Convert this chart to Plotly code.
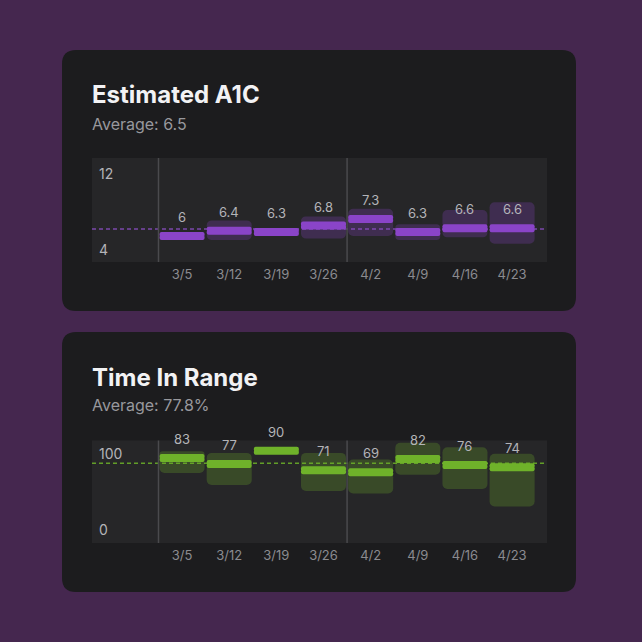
import plotly.graph_objects as go

# ---------------- data ----------------
weeks = ["3/5", "3/12", "3/19", "3/26", "4/2", "4/9", "4/16", "4/23"]

a1c_values = [6, 6.4, 6.3, 6.8, 7.3, 6.3, 6.6, 6.6]
a1c_low = [None, 5.7, None, 5.8, 6.0, 5.7, 5.9, 5.4]
a1c_high = [None, 7.2, None, 7.5, 8.1, 6.9, 8.0, 8.6]

tir_values = [83, 77, 90, 71, 69, 82, 76, 74]
tir_low = [68.3, 56.6, None, 50.7, 48.3, 66.7, 52.6, 35.6]
tir_high = [89.5, 87.9, None, 87.9, 81.4, 97.7, 93.4, 87.0]

a1c_axis_labels = ["12", "4"]
tir_axis_labels = ["100", "0"]

# ---------------- layout helpers ----------------
W, H = 642, 642
FONT = "Inter"
X_DOM = [92 / W, 547 / W]
X_RANGE = [-1.91, 7.74]
A1C_RANGE = [4, 12]
TIR_RANGE = [0, 100]
A1C_DOM = [1 - 262 / H, 1 - 158 / H]
TIR_DOM = [1 - 543 / H, 1 - 440.5 / H]

BAR_W = 0.955
BAR_PX = 8


def rounded_rect(x0p, y0p, x1p, y1p, rp):
    x0, x1 = x0p / W, x1p / W
    yt, yb = 1 - y0p / H, 1 - y1p / H
    r = rp / W
    return (f"M{x0+r},{yb} L{x1-r},{yb} Q{x1},{yb} {x1},{yb+r} "
            f"L{x1},{yt-r} Q{x1},{yt} {x1-r},{yt} L{x0+r},{yt} "
            f"Q{x0},{yt} {x0},{yt-r} L{x0},{yb+r} Q{x0},{yb} {x0+r},{yb} Z")


fig = go.Figure()
card_shapes = []
bg_shapes = []
line_shapes = []
annotations = []

panels = [
    dict(xa="x", ya="y", vals=a1c_values, lo=a1c_low, hi=a1c_high, rng=A1C_RANGE, dom=A1C_DOM,
         bar="#8a44c8", box="rgba(138,68,200,0.25)", dash="#7b48aa",
         title="Estimated A1C", sub_fmt="Average: {:.1f}", labels=a1c_axis_labels,
         card=(62, 50, 576, 311), title_y=95, sub_y=124, lab_shift=(-15, 13)),
    dict(xa="x2", ya="y2", vals=tir_values, lo=tir_low, hi=tir_high, rng=TIR_RANGE, dom=TIR_DOM,
         bar="#6fb22a", box="rgba(111,178,42,0.26)", dash="#629e28",
         title="Time In Range", sub_fmt="Average: {:.1f}%", labels=tir_axis_labels,
         card=(62, 332, 576, 592), title_y=377, sub_y=405, lab_shift=(-13, 14)),
]

for p in panels:
    vals = p["vals"]
    n = len(vals)
    dom_px = (p["dom"][1] - p["dom"][0]) * H
    px_per_unit = dom_px / (p["rng"][1] - p["rng"][0])
    half = BAR_PX / 2 / px_per_unit
    overlap = 1.0 / px_per_unit
    common = dict(x=weeks, width=BAR_W, xaxis=p["xa"], yaxis=p["ya"],
                  hoverinfo="skip", showlegend=False, marker_line_width=0)
    # range boxes (upper and lower halves so both ends are rounded)
    up = [h - v if h is not None else None for h, v in zip(p["hi"], vals)]
    dn = [l - v if l is not None else None for l, v in zip(p["lo"], vals)]
    fig.add_trace(go.Bar(y=up, base=vals, marker=dict(color=p["box"], cornerradius=5), **common))
    fig.add_trace(go.Bar(y=dn, base=vals, marker=dict(color=p["box"], cornerradius=5), **common))
    # main bars (two overlapping halves -> rounded at both ends)
    fig.add_trace(go.Bar(y=[half + overlap] * n, base=[v - overlap for v in vals],
                         marker=dict(color=p["bar"], cornerradius=3), **common))
    fig.add_trace(go.Bar(y=[-(half + overlap)] * n, base=[v + overlap for v in vals],
                         marker=dict(color=p["bar"], cornerradius=3), **common))

    avg = sum(vals) / n
    xdom = p["xa"] + " domain"
    ydom = p["ya"] + " domain"
    # plot-area background
    bg_shapes.append(dict(type="rect", xref=xdom, yref=ydom, x0=0, x1=1, y0=0, y1=1,
                          fillcolor="#262628", line=dict(width=0), layer="below"))
    # average dashed line
    line_shapes.append(dict(type="line", xref=xdom, yref=p["ya"], x0=0, x1=1,
                            y0=avg, y1=avg, layer="below",
                            line=dict(color=p["dash"], width=1.5, dash="4px,3px")))
    # month separators
    months_break = [i for i in range(n)
                    if i == 0 or weeks[i].split("/")[0] != weeks[i - 1].split("/")[0]]
    for i in months_break:
        line_shapes.append(dict(type="line", xref=p["xa"], yref=ydom, x0=i - 0.5, x1=i - 0.5,
                                y0=0, y1=1, layer="below",
                                line=dict(color="#4a4a4d", width=1.5)))
    # value labels
    for w, v in zip(weeks, vals):
        annotations.append(dict(x=w, y=v, xref=p["xa"], yref=p["ya"], text=f"{v:g}",
                                showarrow=False, yshift=19,
                                font=dict(family=FONT, size=13, color="#b4b4b8")))
    # axis labels inside plot
    top_lab, bot_lab = p["labels"]
    annotations.append(dict(x=0, xref=xdom, y=p["rng"][1], yref=p["ya"],
                            text=top_lab, showarrow=False, xanchor="left", xshift=5,
                            yshift=p["lab_shift"][0],
                            font=dict(family=FONT, size=14, color="#b4b4b8")))
    annotations.append(dict(x=0, xref=xdom, y=p["rng"][0], yref=p["ya"],
                            text=bot_lab, showarrow=False, xanchor="left", xshift=5,
                            yshift=p["lab_shift"][1],
                            font=dict(family=FONT, size=14, color="#b4b4b8")))
    # card
    cx0, cy0, cx1, cy1 = p["card"]
    card_shapes.append(dict(type="path", xref="paper", yref="paper",
                            path=rounded_rect(cx0, cy0, cx1, cy1, 14),
                            fillcolor="#1c1c1e", line=dict(width=0), layer="below"))
    # titles
    annotations.append(dict(x=92 / W, y=1 - p["title_y"] / H, xref="paper", yref="paper",
                            text=p["title"], showarrow=False, xanchor="left", yanchor="middle",
                            xshift=-2,
                            font=dict(family=FONT, size=24, color="#f2f2f4", weight=700)))
    annotations.append(dict(x=92 / W, y=1 - p["sub_y"] / H, xref="paper", yref="paper",
                            text=p["sub_fmt"].format(avg), showarrow=False, xanchor="left",
                            yanchor="middle", xshift=-2,
                            font=dict(family=FONT, size=16, color="#98989d")))

axis_x = dict(type="category", range=X_RANGE, domain=X_DOM, showgrid=False, zeroline=False,
              showline=False, ticks="", ticklabelstandoff=3,
              tickfont=dict(family=FONT, size=13, color="#8b8b90"), fixedrange=True)
axis_y = dict(showgrid=False, zeroline=False, showline=False, showticklabels=False,
              ticks="", fixedrange=True)

fig.update_layout(
    width=W, height=H,
    margin=dict(l=0, r=0, t=0, b=0),
    paper_bgcolor="#45274f",
    plot_bgcolor="rgba(0,0,0,0)",
    barmode="overlay",
    showlegend=False,
    xaxis=dict(axis_x, anchor="y"),
    yaxis=dict(axis_y, range=A1C_RANGE, domain=A1C_DOM, anchor="x"),
    xaxis2=dict(axis_x, anchor="y2"),
    yaxis2=dict(axis_y, range=TIR_RANGE, domain=TIR_DOM, anchor="x2"),
    shapes=card_shapes + bg_shapes + line_shapes,
    annotations=annotations,
)

fig.write_html("out.html", config={"displayModeBar": False})
